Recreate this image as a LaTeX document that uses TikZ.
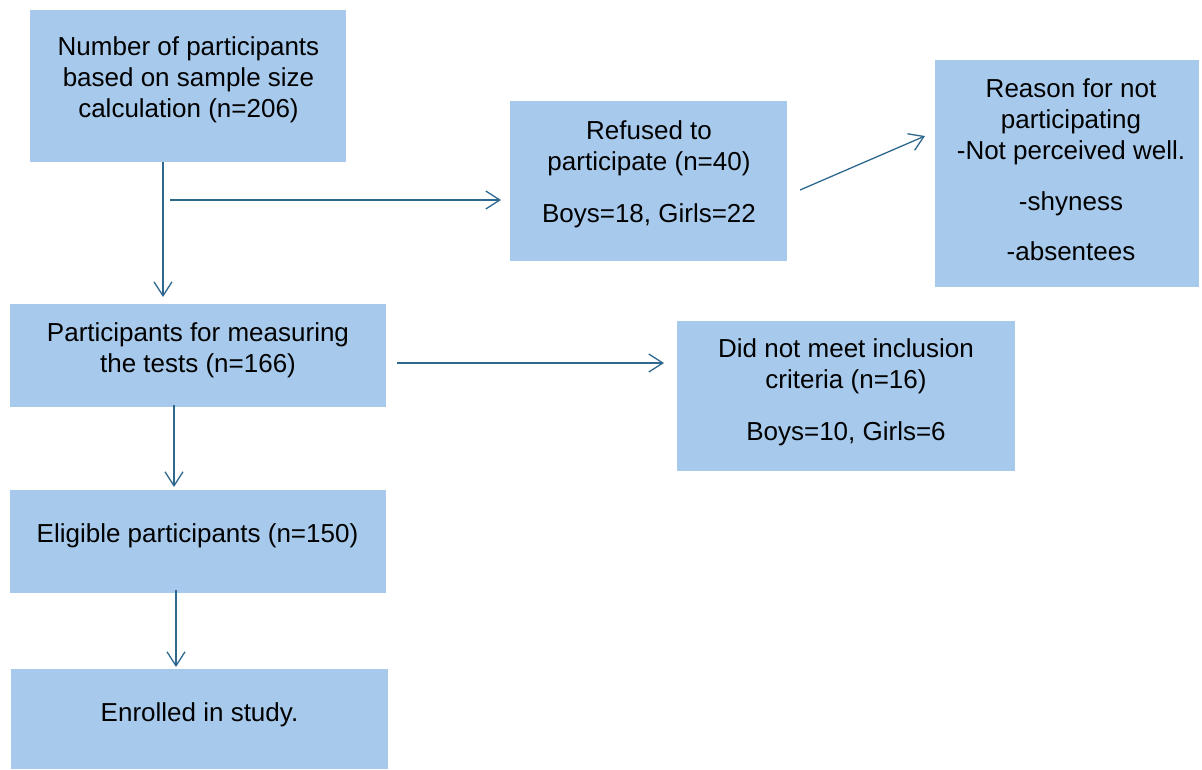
\documentclass[tikz,border=0pt]{standalone}
\usepackage{fontspec}
\setmainfont{Liberation Sans}
\usetikzlibrary{arrows.meta,calc}
\definecolor{boxfill}{HTML}{A7CAEC}
\definecolor{arrowcol}{RGB}{46,104,142}
\tikzset{
  box/.style={rectangle, fill=boxfill, draw=none, inner sep=0pt, outer sep=0pt},
  txt/.style={align=center, inner sep=0pt, font=\fontsize{26}{31}\selectfont, text=black},
  conn/.style={draw=arrowcol, line width=1.3pt, -{Straight Barb[length=14pt,width=18pt,line width=1.3pt]}}
}
\begin{document}
\begin{tikzpicture}[x=1pt,y=-1pt]
\useasboundingbox (0,0) rectangle (1202,769);
% boxes
\node[box, minimum width=316pt, minimum height=152pt] (b1) at (188,86) {};
\node[box, minimum width=277pt, minimum height=160pt] (b2) at (648.5,181) {};
\node[box, minimum width=264pt, minimum height=227pt] (b3) at (1067,173.5) {};
\node[box, minimum width=376pt, minimum height=103pt] (b4) at (198,355.5) {};
\node[box, minimum width=338pt, minimum height=150pt] (b5) at (846,396) {};
\node[box, minimum width=376pt, minimum height=103pt] (b6) at (198,541.5) {};
\node[box, minimum width=377pt, minimum height=100pt] (b7) at (199.5,719) {};
% texts
\node[txt] (t1) at (188.5,80) {Number of participants\\based on sample size\\calculation (n=206)};
\node[txt] (t2) at (649,174.5) {Refused to\\participate (n=40)\\[21pt]Boys=18, Girls=22};
\node[txt] (t3) at (1071,170) {Reason for not\\participating\\-Not perceived well.\\[20pt]-shyness\\[19pt]-absentees};
\node[txt] (t4) at (198,350) {Participants for measuring\\the tests (n=166)};
\node[txt] (t5) at (846,392.5) {Did not meet inclusion\\criteria (n=16)\\[21pt]Boys=10, Girls=6};
\node[txt] (t6) at (197.5,536) {Eligible participants (n=150)};
\node[txt] (t7) at (199.5,715) {Enrolled in study.};
% connector ends
\coordinate (a1s) at ($(b1.south)+(-25,0)$);
\coordinate (a1e) at ($(b4.north)+(-35,-7)$);
\coordinate (a2s) at (170,200);
\coordinate (a2e) at ($(b2.west)+(-9,19)$);
\coordinate (a3s) at (800,190);
\coordinate (a3e) at (925,136);
\coordinate (a4s) at (397,363);
\coordinate (a4e) at ($(b5.west)+(-13,-33)$);
\coordinate (a5s) at ($(b4.south)+(-24,-2)$);
\coordinate (a5e) at ($(b6.north)+(-24,-3)$);
\coordinate (a6s) at ($(b6.south)+(-22,-3)$);
\coordinate (a6e) at ($(b7.north)+(-23.5,-2)$);
% connectors
\draw[conn] (a1s) -- (a1e);
\draw[conn] (a2s) -- (a2e);
\draw[conn] (a3s) -- (a3e);
\draw[conn] (a4s) -- (a4e);
\draw[conn] (a5s) -- (a5e);
\draw[conn] (a6s) -- (a6e);
\end{tikzpicture}
\end{document}
